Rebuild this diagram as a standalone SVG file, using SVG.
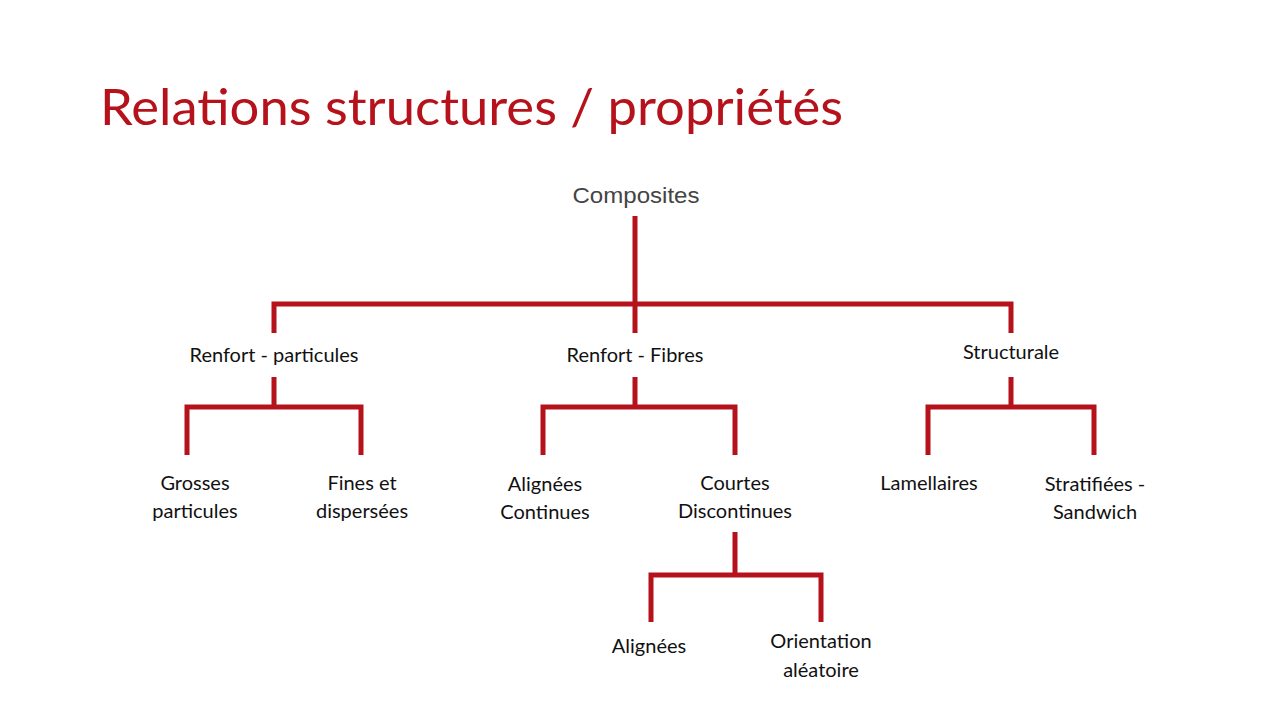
<svg xmlns="http://www.w3.org/2000/svg" width="1280" height="720" viewBox="0 0 1280 720">
<style>
.t{font-family:Lato,"Open Sans",sans-serif;font-size:20px;fill:#111;text-anchor:middle}
.c{stroke:#b5121b;stroke-width:5;fill:none;stroke-linecap:butt;stroke-linejoin:miter}
</style>
<rect width="1280" height="720" fill="#fff"/>
<text x="100" y="125" font-family="Lato,'Open Sans',sans-serif" font-size="50" fill="#b5121b" textLength="743" lengthAdjust="spacingAndGlyphs">Relations structures / propriétés</text>
<g id="connectors">
<path class="c" d="M635 216V333M274 333V304H1011V333"/>
<path class="c" d="M274 377V407M187 455V407H361V455"/>
<path class="c" d="M635 377V407M543 455V407H735V455"/>
<path class="c" d="M1011 377V407M928 455V407H1094V455"/>
<path class="c" d="M735 532V575M651 622V575H821V622"/>
</g>
<g id="composites"><text x="636" y="203" font-family="'Liberation Sans',sans-serif" font-size="22" fill="#444" text-anchor="middle" textLength="127" lengthAdjust="spacingAndGlyphs">Composites</text></g>
<g id="particules"><text class="t" x="274" y="362" font-size="22">Renfort - particules</text></g>
<g id="fibres"><text class="t" x="635" y="362" font-size="22">Renfort - Fibres</text></g>
<g id="structurale"><text class="t" x="1011" y="359" font-size="18">Structurale</text></g>
<g id="grosses"><text class="t" x="195" y="490">Grosses</text><text class="t" x="195" y="518">particules</text></g>
<g id="fines"><text class="t" x="362" y="490">Fines et</text><text class="t" x="362" y="518">dispersées</text></g>
<g id="alignees-cont"><text class="t" x="545" y="491">Alignées</text><text class="t" x="545" y="519">Continues</text></g>
<g id="courtes"><text class="t" x="735" y="490">Courtes</text><text class="t" x="735" y="518">Discontinues</text></g>
<g id="lamellaires"><text class="t" x="929" y="490">Lamellaires</text></g>
<g id="stratifiees"><text class="t" x="1095" y="491">Stratifiées -</text><text class="t" x="1095" y="519">Sandwich</text></g>
<g id="alignees"><text class="t" x="649" y="653">Alignées</text></g>
<g id="orientation"><text class="t" x="821" y="648">Orientation</text><text class="t" x="821" y="677">aléatoire</text></g>
</svg>
